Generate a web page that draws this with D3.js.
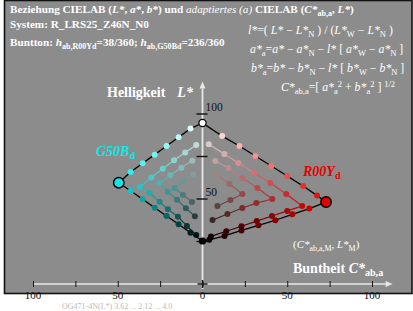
<!DOCTYPE html>
<html><head><meta charset="utf-8">
<script src="https://cdn.jsdelivr.net/npm/d3@7"></script>
<style>html,body{margin:0;padding:0;background:#fff;overflow:hidden}svg{display:block}</style>
</head><body>
<svg id="c" width="413" height="311"></svg>
<script>
// ---- data ----
const xTickValues = [-100, -75, -50, -25, 0, 25, 50, 75, 100];
const xLabelValues = [-100, -50, 0, 50, 100];
const xLabelTexts = ["100", "50", "0", "50", "100"];
const yTickValues = [25, 50, 75, 100];
const yLabelValues = [50, 100];
const whitePoint = [0, 94.7];
const blackPoint = [0, 25.3];
const redCorner = [72.9, 48.2];
const cyanCorner = [-49.4, 59.6];
const redOuter = [[0,94.7],[11.6,87],[21.8,81.2],[31.2,75.3],[40.6,69.4],[50,63.5],[59.4,57.6],[67.6,52],[72.9,48.2],[63,44.4],[53,41],[43,37.5],[33,34.5],[23,31.5],[13,28.3],[4,26],[0,25.3]];
const redB = [[3.7,82.2],[12.9,76.5],[21.2,71.2],[30.6,65.3],[40,59.4],[49.4,52.9],[58.8,45.9],[50,43],[41,40],[32,37],[23,34],[14,31],[5,28]];
const redC = [[7.6,72.4],[15.3,68.2],[23.5,62.4],[32.4,56.5],[41.2,50],[31.8,47.6],[23.5,44.7],[14.7,41.2],[5.9,37.6]];
const redD = [[8.8,64.1],[15.9,58.8],[23.5,52.9],[16.5,49.4],[8.8,45.9]];
const cyanOuter = [[0,94.7],[-7.1,91.4],[-14.1,86.3],[-21.2,81.2],[-28.2,76.1],[-35.3,71],[-42.4,65.9],[-49.4,59.6],[-42.3,54.7],[-35.3,49.8],[-28.2,44.9],[-21.2,40],[-14.1,35.1],[-7.1,30.2],[0,25.3]];
const cyanB = [[-3.7,81.8],[-10.2,77.4],[-16.8,72.8],[-23.5,67.8],[-30.2,62.6],[-37,57],[-31.2,53.5],[-25.3,48.4],[-20.4,43.9],[-14.5,39.6],[-9.2,34.1],[-3.7,28.8]];
const cyanC = [[-6,72.5],[-12.5,68.4],[-19,64],[-25.5,59.3],[-20.5,54.2],[-15,49.5],[-9.8,44.6],[-4.5,39.8]];
const cyanD = [[-5.5,64.5],[-11.2,60.5],[-16.5,56.3],[-11.5,52.4],[-6.2,48.3]];
const redColor = "#e60000";
const cyanColor = "#10e8e8";

// ---- drawing ----
const svg = d3.select("#c");
const x = d3.scaleLinear().domain([-100, 100]).range([33, 372]);
const y = d3.scaleLinear().domain([0, 100]).range([284, 114]);
const FONT = "'Liberation Serif','DejaVu Serif',serif";

svg.append("rect").attr("x", 4.5).attr("y", 0.5).attr("width", 407.5).attr("height", 293)
  .attr("fill", "#8c8c8c").attr("stroke", "#111").attr("stroke-width", 1.6);

function colorOf(p, corner, col) {
  let c = Math.max(0, Math.min(1, p[0] / corner[0]));
  if (c >= 0.999) return d3.color(col);
  const Lg = (p[1] - c * corner[1]) / (1 - c);
  const g = Math.max(0, Math.min(1, (Lg - blackPoint[1]) / (whitePoint[1] - blackPoint[1])));
  const grey = d3.rgb(255 * g, 255 * g, 255 * g);
  return d3.color(d3.interpolateRgb(grey, col)(c));
}

// axes
const axisCol = "#e8e8e8";
svg.append("line").attr("x1", x(-100)).attr("x2", x(108)).attr("y1", y(0)).attr("y2", y(0))
  .attr("stroke", axisCol).attr("stroke-width", 1.5);
svg.append("path").attr("d", `M${x(108)+7},${y(0)} L${x(108)},${y(0)-3} L${x(108)},${y(0)+3}Z`).attr("fill", axisCol);
svg.append("line").attr("x1", x(0)).attr("x2", x(0)).attr("y1", y(0) + 5).attr("y2", y(115))
  .attr("stroke", axisCol).attr("stroke-width", 1.8);
svg.append("path").attr("d", `M${x(0)},${y(115)-7} L${x(0)-3},${y(115)} L${x(0)+3},${y(115)}Z`).attr("fill", axisCol);

const xAxis = d3.axisBottom(x).tickValues(xTickValues).tickSize(0).tickFormat("");
const gx = svg.append("g").attr("transform", `translate(0,${y(0)})`).call(xAxis);
gx.select(".domain").remove();
gx.selectAll(".tick line").remove();
gx.selectAll(".tick").append("line").attr("y1", -3).attr("y2", 3).attr("stroke", "#111").attr("stroke-width", 1);
svg.append("line").attr("x1", x(0) - 5).attr("x2", x(0) + 5).attr("y1", y(0)).attr("y2", y(0)).attr("stroke", "#111").attr("stroke-width", 1.4);
svg.append("line").attr("x1", x(0)).attr("x2", x(0)).attr("y1", y(0) - 4).attr("y2", y(0) + 4).attr("stroke", "#111").attr("stroke-width", 1.4);
svg.selectAll("text.xl").data(xLabelValues).enter().append("text").attr("class", "xl")
  .attr("x", d => x(d)).attr("y", y(0) + 15).attr("text-anchor", "middle")
  .attr("font-family", FONT).attr("font-size", 11).attr("fill", "#111")
  .text((d, i) => xLabelTexts[i]);

svg.selectAll("line.yt").data(yTickValues).enter().append("line").attr("class", "yt")
  .attr("x1", x(0) - 6).attr("x2", x(0) + 5).attr("y1", d => y(d)).attr("y2", d => y(d))
  .attr("stroke", "#111").attr("stroke-width", 1.4);
svg.selectAll("text.yl").data(yLabelValues).enter().append("text").attr("class", "yl")
  .attr("x", x(0) + 3).attr("y", d => y(d) - 3)
  .attr("font-family", FONT).attr("font-size", 11.5).attr("fill", "#111").text(d => d);

// chevron lines and points
function drawSet(pts, corner, col, outer) {
  const g = svg.append("g");
  for (let i = 0; i < pts.length - 1; i++) {
    const a = pts[i], b = pts[i + 1];
    const mid = [(a[0] + b[0]) / 2, (a[1] + b[1]) / 2];
    g.append("line").attr("x1", x(a[0])).attr("y1", y(a[1])).attr("x2", x(b[0])).attr("y2", y(b[1]))
      .attr("stroke", outer ? "#000" : colorOf(mid, corner, col).formatHex())
      .attr("stroke-width", outer ? 1.3 : 1.2);
  }
  g.selectAll("circle").data(pts).enter().append("circle")
    .attr("cx", d => x(d[0])).attr("cy", d => y(d[1])).attr("r", 3)
    .attr("fill", d => colorOf(d, corner, col).formatHex());
}
drawSet(redD, redCorner, redColor, false);
drawSet(redC, redCorner, redColor, false);
drawSet(redB, redCorner, redColor, false);
drawSet(cyanD, cyanCorner, cyanColor, false);
drawSet(cyanC, cyanCorner, cyanColor, false);
drawSet(cyanB, cyanCorner, cyanColor, false);
drawSet(redOuter, redCorner, redColor, true);
drawSet(cyanOuter, cyanCorner, cyanColor, true);

// key points
svg.append("circle").attr("cx", x(redCorner[0])).attr("cy", y(redCorner[1])).attr("r", 5.2)
  .attr("fill", redColor).attr("stroke", "#000").attr("stroke-width", 1.5);
svg.append("circle").attr("cx", x(cyanCorner[0])).attr("cy", y(cyanCorner[1])).attr("r", 5.2)
  .attr("fill", cyanColor).attr("stroke", "#000").attr("stroke-width", 1.5);
svg.append("circle").attr("cx", x(whitePoint[0])).attr("cy", y(whitePoint[1])).attr("r", 3.6)
  .attr("fill", "#fff").attr("stroke", "#000").attr("stroke-width", 1.2);
svg.append("circle").attr("cx", x(blackPoint[0])).attr("cy", y(blackPoint[1])).attr("r", 3.6)
  .attr("fill", "#000");

// texts
function rich(xp, yp, parts, opts) {
  const t = svg.append("text").attr("x", xp).attr("y", yp).attr("font-family", FONT)
    .attr("font-size", opts.size).attr("fill", opts.fill).attr("font-weight", opts.bold ? "bold" : "normal");
  if (opts.anchor) t.attr("text-anchor", opts.anchor);
  let shift = 0;
  parts.forEach(p => {
    const s = t.append("tspan").text(p.t);
    const target = p.sub ? 3 : (p.sup ? -4 : 0);
    if (target !== shift) { s.attr("dy", target - shift); shift = target; }
    if (p.sub || p.sup) s.attr("font-size", opts.size * 0.72);
    if (p.i) s.attr("font-style", "italic");
    if (p.n) s.attr("font-weight", "normal");
  });
  return t;
}
const W = "#ffffff";
rich(10, 13, [{t:"Beziehung CIELAB ("},{t:"L*",i:1},{t:", "},{t:"a*",i:1},{t:", "},{t:"b*",i:1},{t:") und "},
  {t:"adaptiertes (a)",i:1,n:1},{t:" CIELAB ("},{t:"C*",i:1},{t:"ab,a",sub:1},{t:", "},{t:"L*",i:1},{t:")"}], {size:11.2, fill:W, bold:1});
rich(10, 28, [{t:"System: R_LRS25_Z46N_N0"}], {size:11.2, fill:W, bold:1});
rich(10, 46, [{t:"Buntton: "},{t:"h",i:1},{t:"ab,R00Yd",sub:1},{t:"=38/360; "},{t:"h",i:1},{t:"ab,G50Bd",sub:1},{t:"=236/360"}], {size:11.2, fill:W, bold:1});

rich(248, 34, [{t:"l*",i:1},{t:"=( "},{t:"L*",i:1},{t:" − "},{t:"L*",i:1},{t:"N",sub:1},{t:" ) / ("},{t:"L*",i:1},{t:"W",sub:1},{t:" − "},{t:"L*",i:1},{t:"N",sub:1},{t:" )"}], {size:11.8, fill:W});
rich(250, 53, [{t:"a*",i:1},{t:"a",sub:1},{t:"="},{t:"a*",i:1},{t:" − "},{t:"a*",i:1},{t:"N",sub:1},{t:" − "},{t:"l*",i:1},{t:" [ "},{t:"a*",i:1},{t:"W",sub:1},{t:" − "},{t:"a*",i:1},{t:"N",sub:1},{t:" ]"}], {size:11.8, fill:W});
rich(251, 72, [{t:"b*",i:1},{t:"a",sub:1},{t:"="},{t:"b*",i:1},{t:" − "},{t:"b*",i:1},{t:"N",sub:1},{t:" − "},{t:"l*",i:1},{t:" [ "},{t:"b*",i:1},{t:"W",sub:1},{t:" − "},{t:"b*",i:1},{t:"N",sub:1},{t:" ]"}], {size:11.8, fill:W});
rich(281, 91, [{t:"C*",i:1},{t:"ab,a",sub:1},{t:"=[ "},{t:"a*",i:1},{t:"a",sub:1},{t:"2",sup:1},{t:" + "},{t:"b*",i:1},{t:"a",sub:1},{t:"2",sup:1},{t:" ] "},{t:"1/2",sup:1}], {size:11.8, fill:W});

rich(107, 97, [{t:"Helligkeit"},{t:"L*",i:1}], {size:14, fill:W, bold:1}).select("tspan:last-child").attr("dx", 12);
rich(96, 156, [{t:"G50B",i:1},{t:"d",sub:1}], {size:14, fill:cyanColor, bold:1});
rich(303, 176, [{t:"R00Y",i:1},{t:"d",sub:1}], {size:14, fill:redColor, bold:1});
rich(293, 248, [{t:"("},{t:"C*",i:1},{t:"ab,a,M",sub:1},{t:", "},{t:"L*",i:1},{t:"M",sub:1},{t:")"}], {size:11, fill:W});
rich(293, 273, [{t:"Buntheit "},{t:"C*",i:1},{t:"ab,a",sub:1}], {size:14, fill:W, bold:1});
svg.append("text").attr("x", 62).attr("y", 309).attr("font-family", FONT).attr("font-size", 8)
  .attr("fill", "#bbb").text("OG471-4N(L*) 3.62 ... 2.12 ... 4.0");
</script>
</body></html>
